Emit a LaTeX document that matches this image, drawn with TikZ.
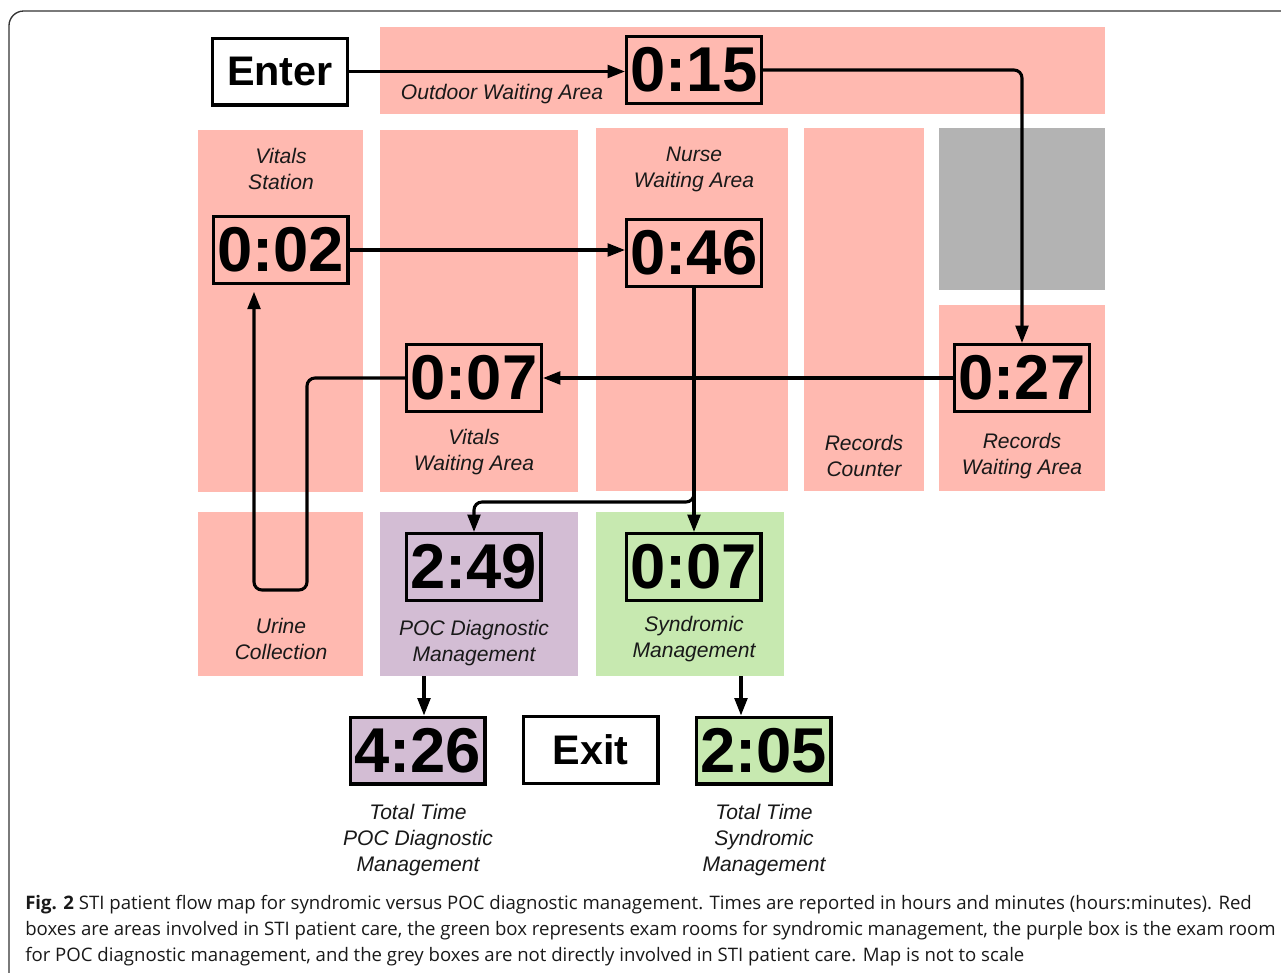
\documentclass[tikz,border=0pt]{standalone}
\usepackage{fontspec}
\setmainfont{Liberation Sans}
\newfontfamily\capfont{Open Sans}
\usetikzlibrary{arrows.meta,fit}
\definecolor{areared}{RGB}{255,185,176}
\definecolor{areapoc}{RGB}{211,189,212}
\definecolor{areasyn}{RGB}{199,233,176}
\definecolor{areagrey}{RGB}{179,179,179}
\definecolor{lbltext}{RGB}{25,25,25}
\begin{document}
\begin{tikzpicture}[x=0.75pt,y=-0.75pt,
  area/.style={fill=areared, draw=none, inner sep=0pt},
  tbox/.style={draw=black, line width=2.6pt, minimum width=100.9pt, minimum height=49.9pt,
    inner sep=0pt, font=\fontsize{47.5}{50}\selectfont\bfseries},
  wbox/.style={tbox, fill=white, font=\fontsize{31}{34}\selectfont\bfseries},
  lbl/.style={font=\fontsize{15.8}{19.5}\selectfont\itshape, text=lbltext, align=center, inner sep=0pt},
  arr/.style={line width=2.3pt, -{Triangle[length=13pt,width=9.5pt]}, rounded corners=6pt},
  captxt/.style={anchor=base west, inner sep=0pt, font=\capfont\fontsize{13.95}{19.5}\selectfont, text=black!90},
]
\useasboundingbox (0,0) rectangle (1281,972);
\begin{scope}
  \clip (0,0) rectangle (1281,972);
  \draw[line width=1pt, draw=black!80, rounded corners=11pt] (9,11) rectangle (1320,1010);
\end{scope}

% areas
\node[area, fit={(380,27) (1105,114)}] (outdoor) {};
\node[area, fit={(198,130) (363,492)}] (vitals) {};
\node[area, fit={(380,130) (578,492)}] (vwait) {};
\node[area, fit={(596,128) (788,491)}] (nurse) {};
\node[area, fit={(804,128) (924,491)}] (rcounter) {};
\node[area, fill=areagrey, fit={(939,128) (1105,290)}] (grey) {};
\node[area, fit={(939,305) (1105,491)}] (rwait) {};
\node[area, fit={(198,512) (363,676)}] (urine) {};
\node[area, fill=areapoc, fit={(380,512) (578,676)}] (poc) {};
\node[area, fill=areasyn, fit={(596,512) (784,676)}] (syn) {};

% labels
\node[lbl] (l1) at (502,94) {Outdoor Waiting Area};
\node[lbl] (l2) at (281,169) {Vitals\\Station};
\node[lbl] (l3) at (694,169) {Nurse\\Waiting Area};
\node[lbl] (l4) at (474,452) {Vitals\\Waiting Area};
\node[lbl] (l5) at (864,456) {Records\\Counter};
\node[lbl] (l6) at (1022,456) {Records\\Waiting Area};
\node[lbl] (l7) at (281,639) {Urine\\Collection};
\node[lbl] (l8) at (474,643) {POC Diagnostic\\Management};
\node[lbl] (l9) at (694,639) {Syndromic\\Management};
\node[lbl] (l10) at (418,840) {Total Time\\POC Diagnostic\\Management};
\node[lbl] (l11) at (764,840) {Total Time\\Syndromic\\Management};

% time boxes
\node[wbox] (enter) at (280,71.5) {Enter};
\node[tbox] (t015) at (694,70) {0:15};
\node[tbox] (t002) at (280.5,250) {0:02};
\node[tbox] (t046) at (694,253) {0:46};
\node[tbox] (t007) at (474,378) {0:07};
\node[tbox] (t027) at (1022,378) {0:27};
\node[tbox] (t249) at (473.5,567) {2:49};
\node[tbox] (s007) at (693.5,567) {0:07};
\node[tbox, fill=areapoc] (t426) at (417.5,750.5) {4:26};
\node[wbox] (exit) at (590.5,750) {Exit};
\node[tbox, fill=areasyn] (t205) at (763.5,750.5) {2:05};

% connectors
\draw[arr] (enter.east) -- (enter.east -| t015.west);
\draw[arr] (t015.east) -| (t027.north);
\draw[arr] (t027.west) -- (t007.east);
\coordinate (u1) at (307,590);
\coordinate (u2) at (254,590);
\draw[arr, shorten >=5pt] (t007.west) -| (u1) -- (u2) -- (u2 |- t002.south);
\draw[arr] (t002.east) -- (t002.east -| t046.west);
\draw[arr] (t046.south) -- (t046.south |- s007.north);
\coordinate (br) at (474,502);
\draw[arr] (t046.south) |- (br) -- (br |- t249.north);
\coordinate (pa) at (424,0);
\draw[arr] (pa |- poc.south) -- (pa |- t426.north);
\coordinate (sa) at (741,0);
\draw[arr] (sa |- syn.south) -- (sa |- t205.north);

% caption
\node[captxt] (cap1) at (25,909)
  {\textbf{Fig. 2} STI patient flow map for syndromic versus POC diagnostic management. Times are reported in hours and minutes (hours:minutes). Red};
\node[captxt] (cap2) at (25,935)
  {boxes are areas involved in STI patient care, the green box represents exam rooms for syndromic management, the purple box is the exam room};
\node[captxt] (cap3) at (25,961)
  {for POC diagnostic management, and the grey boxes are not directly involved in STI patient care. Map is not to scale};
\end{tikzpicture}
\end{document}
